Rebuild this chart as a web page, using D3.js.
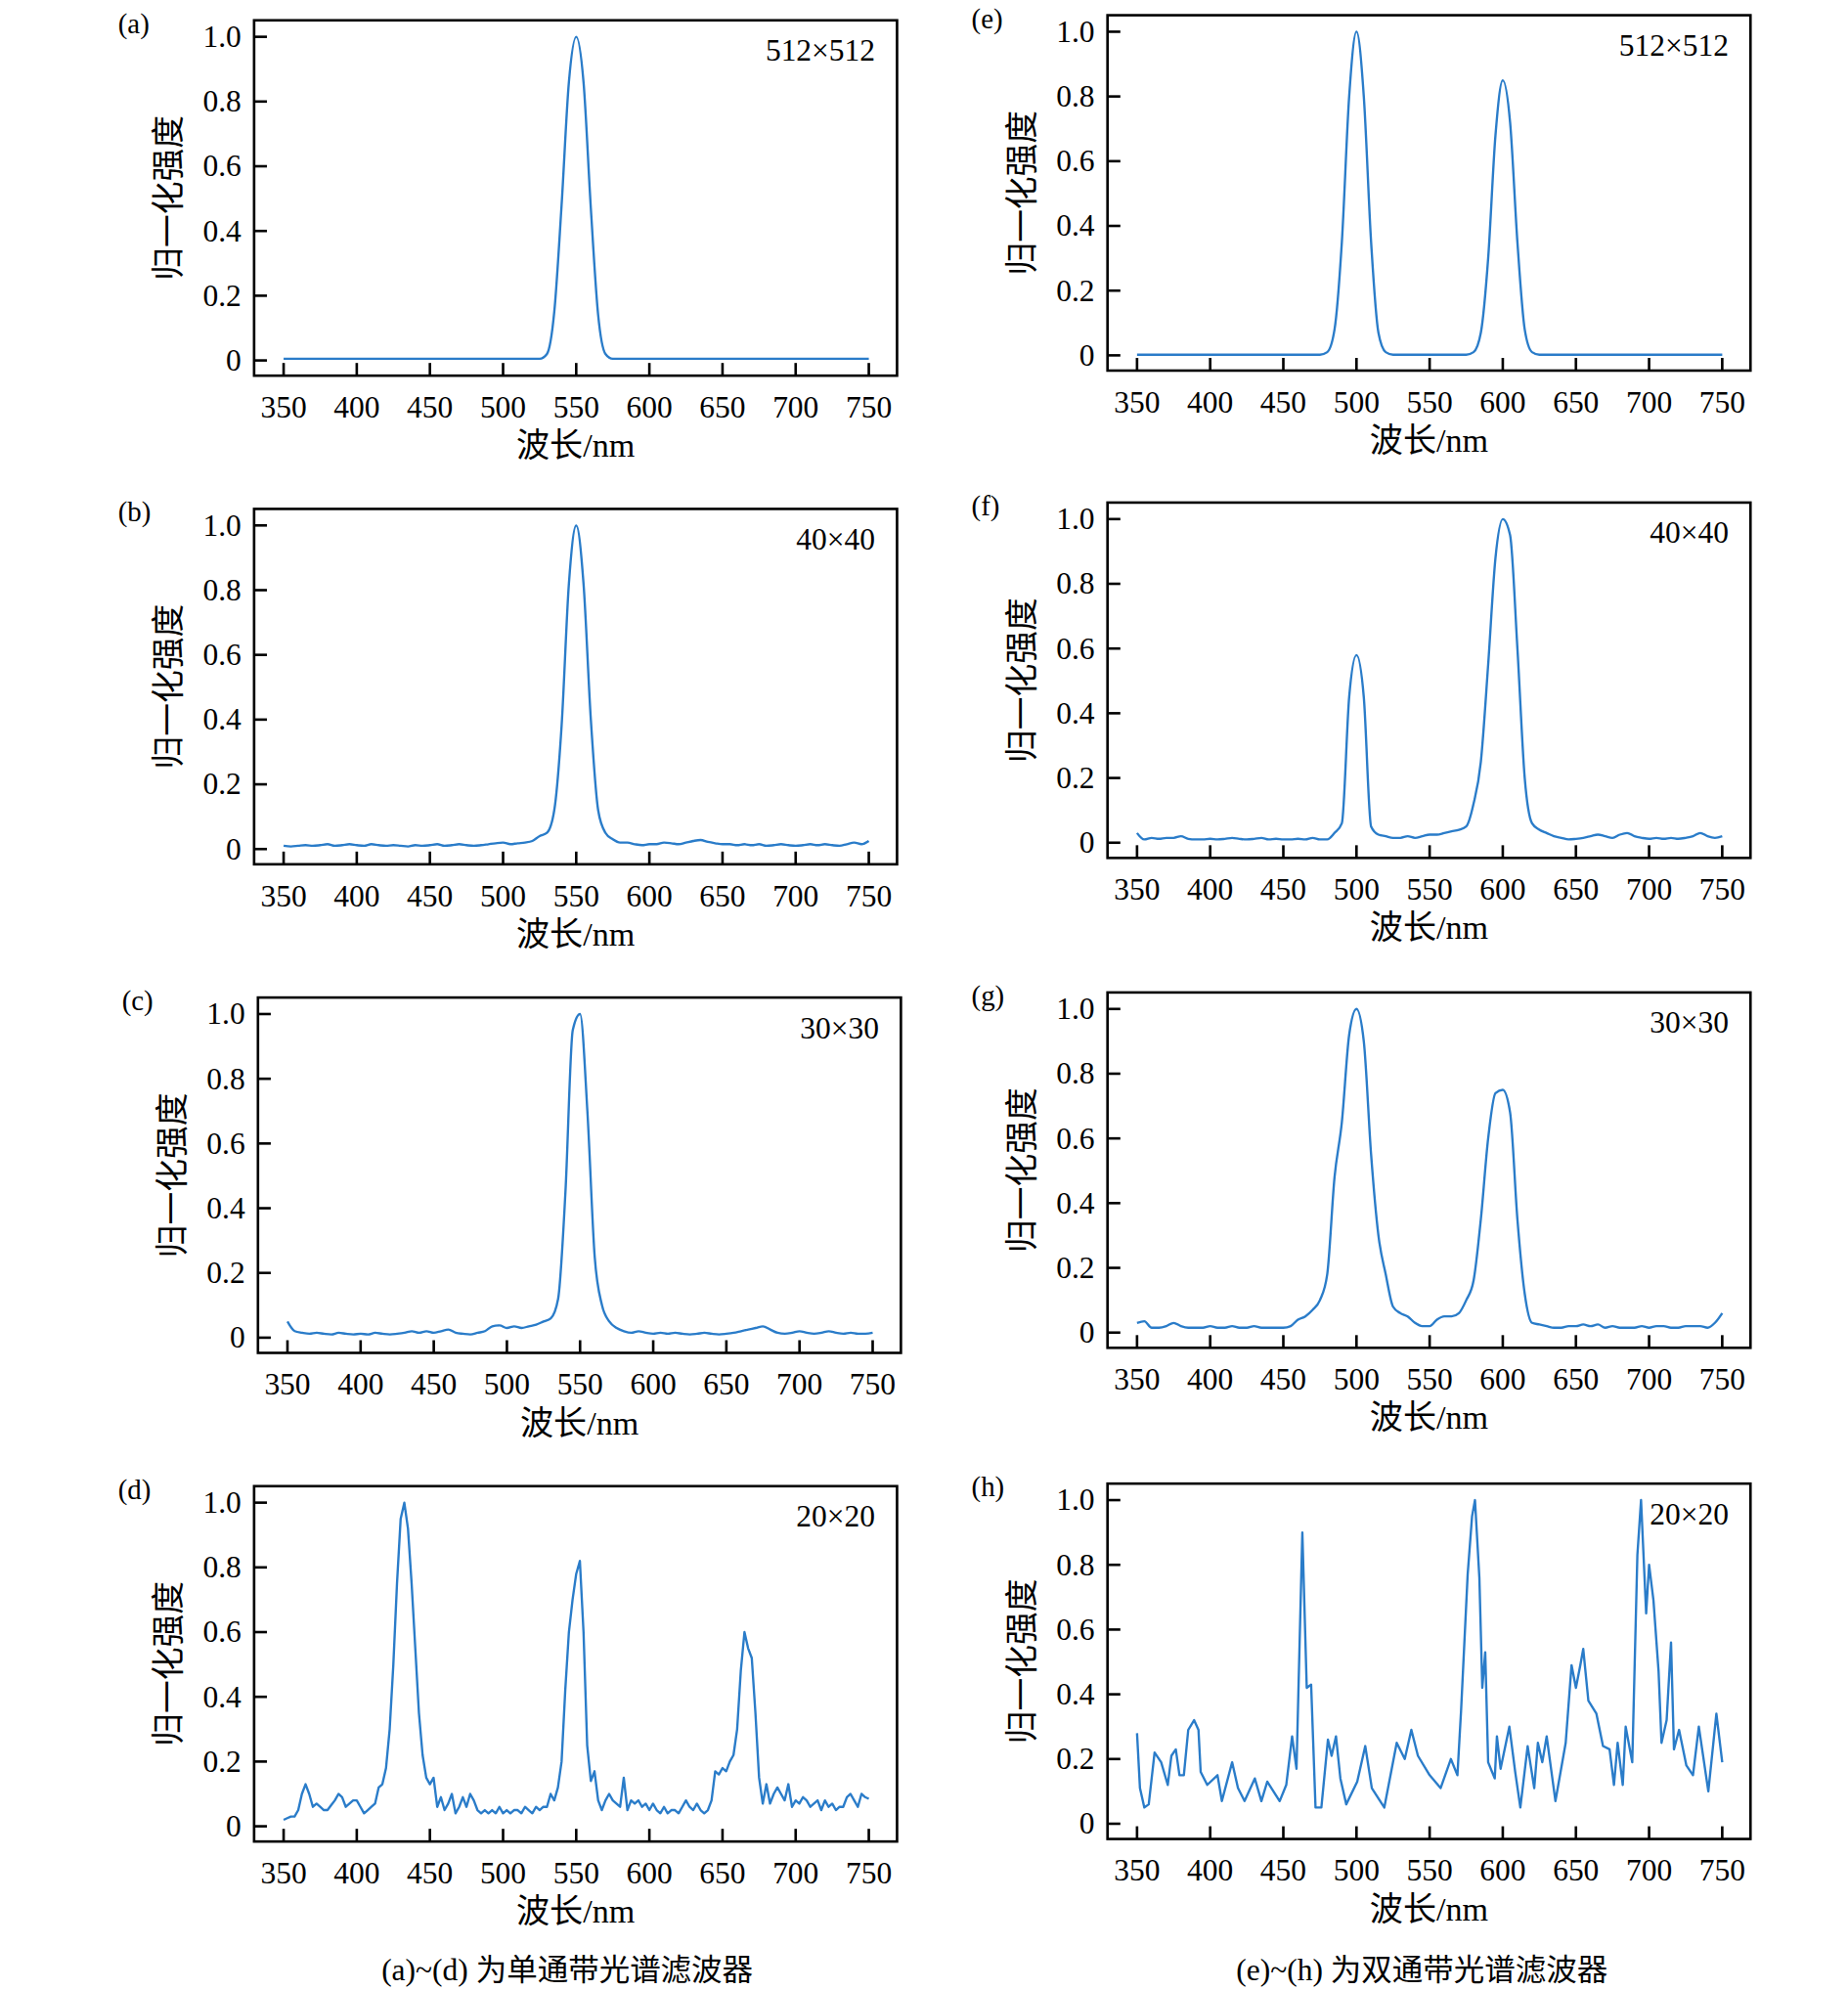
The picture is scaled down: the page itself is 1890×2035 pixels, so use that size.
<!DOCTYPE html>
<html>
<head>
<meta charset="utf-8">
<script src="https://cdn.jsdelivr.net/npm/d3@7"></script>
<style>
  body { margin: 0; background: #fff; }
  text { font-family: "Liberation Serif", "Times New Roman", serif; fill: #000; }
  .cjk { font-family: "Liberation Serif", "Noto Sans CJK SC", serif; }
</style>
</head>
<body>
<svg id="chart" width="1890" height="2035" viewBox="0 0 1440 1568" preserveAspectRatio="none"></svg>
<script>
// wavelength grids
const wl5 = d3.range(350, 751, 5);     // 81 points
const wl25 = d3.range(350, 750.1, 2.5); // 161 points
const xTicks = [350, 400, 450, 500, 550, 600, 650, 700, 750];
const yTicks = [0, 0.2, 0.4, 0.6, 0.8, 1.0];

// (a) 512x512 single band
const specA = [
  0.005,0.005,0.005,0.005,0.005,0.005,0.005,0.005,0.005,0.005,0.005,0.005,0.005,0.005,0.005,0.005,0.005,0.005,
  0.005,0.005,0.005,0.005,0.005,0.005,0.005,0.005,0.005,0.005,0.005,0.005,0.005,0.005,0.005,0.005,0.005,0.005,
  0.02,0.15,0.48,0.86,1.0,0.86,0.47,0.14,0.02,
  0.005,0.005,0.005,0.005,0.005,0.005,0.005,0.005,0.005,0.005,0.005,0.005,0.005,0.005,0.005,0.005,0.005,0.005,
  0.005,0.005,0.005,0.005,0.005,0.005,0.005,0.005,0.005,0.005,0.005,0.005,0.005,0.005,0.005,0.005,0.005,0.005
];
// (b) 40x40
const specB = [
  0.01,0.008,0.01,0.012,0.01,0.012,0.015,0.01,0.012,0.015,0.012,0.01,0.015,0.012,0.01,0.012,0.01,
  0.008,0.012,0.01,0.012,0.015,0.01,0.012,0.015,0.012,0.01,0.012,0.015,0.018,0.02,0.015,0.018,0.02,
  0.025,0.04,0.05,0.12,0.38,0.82,1.0,0.82,0.4,0.12,0.05,0.03,0.02,
  0.02,0.015,0.012,0.015,0.015,0.02,0.018,0.015,0.02,0.025,0.028,0.022,0.018,0.015,0.015,0.012,0.015,
  0.012,0.015,0.01,0.012,0.015,0.012,0.01,0.012,0.015,0.012,0.015,0.012,0.01,0.015,0.02,0.015,0.025
];
// (c) 30x30
const specC = [
  0.05,0.02,0.015,0.012,0.015,0.012,0.01,0.015,0.012,0.01,0.012,0.01,0.015,0.012,0.01,0.012,0.015,0.02,0.015,
  0.02,0.015,0.02,0.025,0.015,0.012,0.01,0.015,0.02,0.035,0.038,0.03,0.035,0.03,0.035,0.04,0.05,0.06,0.12,
  0.45,0.95,1.0,0.7,0.25,0.1,0.05,0.03,0.02,
  0.015,0.02,0.015,0.012,0.015,0.012,0.015,0.012,0.01,0.012,0.015,0.012,0.01,0.012,0.015,0.02,0.025,
  0.03,0.035,0.025,0.015,0.012,0.015,0.02,0.015,0.012,0.015,0.02,0.015,0.012,0.015,0.012,0.012,0.015
];
// (d) 20x20, 2.5 nm steps
const specD = [
  0.02,0.025,0.03,0.03,  0.05,0.1,0.13,0.1,   0.06,0.07,0.06,0.05,  0.05,0.065,0.08,0.1,
  0.09,0.06,0.07,0.08,   0.08,0.06,0.04,0.05, 0.06,0.07,0.12,0.13,  0.18,0.3,0.5,0.75,
  0.95,1.0,0.92,0.75,    0.55,0.35,0.22,0.15, 0.13,0.15,0.06,0.09,  0.05,0.07,0.1,0.04,
  0.06,0.09,0.06,0.1,    0.08,0.05,0.04,0.05, 0.04,0.05,0.04,0.06,  0.04,0.05,0.04,0.05,
  0.05,0.04,0.06,0.05,   0.04,0.06,0.05,0.06, 0.06,0.1,0.08,0.12,   0.2,0.42,0.6,0.7,
  0.78,0.82,0.6,0.25,    0.14,0.17,0.08,0.05, 0.08,0.1,0.08,0.07,   0.06,0.15,0.05,0.08,
  0.07,0.08,0.06,0.07,   0.05,0.07,0.05,0.04, 0.06,0.04,0.05,0.05,  0.04,0.06,0.08,0.06,
  0.05,0.07,0.05,0.04,   0.05,0.08,0.17,0.16, 0.18,0.17,0.2,0.22,   0.3,0.48,0.6,0.55,
  0.52,0.35,0.15,0.07,   0.13,0.07,0.1,0.12,  0.1,0.08,0.13,0.06,   0.08,0.07,0.09,0.08,
  0.06,0.07,0.08,0.05,   0.08,0.06,0.07,0.05, 0.06,0.06,0.09,0.1,   0.08,0.06,0.1,0.09,
  0.085
];
// (e) 512x512 dual band
const specE = [
  0.002,0.002,0.002,0.002,0.002,0.002,0.002,0.002,0.002,0.002,0.002,0.002,0.002,
  0.002,0.002,0.002,0.002,0.002,0.002,0.002,0.002,0.002,0.002,0.002,0.002,0.002,
  0.01,0.08,0.35,0.8,1.0,0.8,0.35,0.07,0.01,
  0.002,0.002,0.002,0.002,0.002,0.002,0.002,0.002,0.002,0.002,0.002,
  0.01,0.07,0.3,0.68,0.85,0.72,0.35,0.08,0.01,
  0.002,0.002,0.002,0.002,0.002,0.002,0.002,0.002,0.002,0.002,0.002,0.002,0.002,
  0.002,0.002,0.002,0.002,0.002,0.002,0.002,0.002,0.002,0.002,0.002,0.002,0.002
];
// (f) 40x40
const specF = [
  0.03,0.01,0.015,0.012,0.015,0.015,0.02,0.012,0.01,0.01,0.012,0.01,0.012,0.015,0.012,
  0.01,0.012,0.015,0.01,0.012,0.01,0.01,0.012,0.01,0.015,0.01,0.01,0.03,0.06,
  0.45,0.58,0.45,0.05,0.025,
  0.02,0.015,0.015,0.02,0.015,0.02,0.025,0.025,0.03,0.035,0.04,0.05,0.12,0.25,0.55,0.88,
  1.0,0.95,0.6,0.2,0.06,0.04,0.03,
  0.02,0.015,0.01,0.012,0.015,0.02,0.025,0.02,0.015,0.025,0.03,0.02,
  0.015,0.012,0.015,0.012,0.015,0.012,0.015,0.02,0.03,0.02,0.015,0.02
];
// (g) 30x30
const specG = [
  0.03,0.035,0.015,0.015,0.02,0.03,0.02,0.015,0.015,0.015,0.02,0.015,0.015,0.02,0.015,0.015,0.02,0.015,
  0.015,0.015,0.015,0.02,0.04,0.05,0.07,0.1,0.18,0.48,0.65,0.92,1.0,0.9,0.55,0.3,0.18,0.08,0.06,0.05,0.03,0.02,
  0.02,0.04,0.05,0.05,0.06,0.1,0.16,0.35,0.6,0.74,0.75,0.68,0.35,0.12,0.03,
  0.025,0.02,0.015,0.015,0.02,0.02,0.025,0.02,0.025,0.015,0.02,0.015,0.015,
  0.015,0.02,0.015,0.02,0.02,0.015,0.015,0.02,0.02,0.02,0.015,0.03,0.06
];
// (h) 20x20, irregular sampling
const wlH = [350,352,355,358,362,366.5,371,373.5,376.5,379,382,385,389,392,393.5,398,405,408,415,419,423.5,
  430.5,435,439,447.5,452,456,459,463,466,469,472,476,480.5,483,486,489,493,500.5,506,510.5,519,527.5,533,
  537.5,542,550,557.5,564.5,569,571.5,576,579,581,584,586,588,590,594.5,596,598.5,604.5,608.5,612,617,621.5,
  624,627,630,636,643,647,650,653,655,658.5,664,668.5,673,676,678.5,682,684,688.5,692,694.5,698,700,703,
  706.5,708.5,712,715,717,720.5,725.5,730,734,740.5,746,750];
const specH = [0.28,0.11,0.05,0.06,0.22,0.19,0.12,0.21,0.23,0.15,0.15,0.29,0.32,0.29,0.16,0.12,0.15,0.07,0.19,0.11,0.07,
  0.14,0.07,0.13,0.07,0.12,0.27,0.17,0.9,0.42,0.43,0.05,0.05,0.26,0.21,0.27,0.14,0.06,0.13,0.24,0.11,0.05,0.25,0.2,
  0.29,0.21,0.15,0.11,0.2,0.15,0.35,0.77,0.95,1.0,0.76,0.42,0.53,0.19,0.14,0.27,0.17,0.3,0.16,0.05,0.24,0.11,
  0.25,0.19,0.27,0.07,0.25,0.49,0.42,0.49,0.54,0.38,0.34,0.24,0.23,0.12,0.25,0.12,0.3,0.19,0.83,1.0,0.65,0.8,0.69,
  0.47,0.25,0.32,0.56,0.23,0.29,0.18,0.15,0.3,0.1,0.34,0.19];

const panels = [
  { id: "(a)", label: "512×512", left: 198, top: 16, wl: wl5, y: specA, smooth: true },
  { id: "(b)", label: "40×40", left: 198, top: 401, wl: wl5, y: specB, smooth: true },
  { id: "(c)", label: "30×30", left: 201, top: 786, wl: wl5, y: specC, smooth: true },
  { id: "(d)", label: "20×20", left: 198, top: 1171, wl: wl25, y: specD, smooth: false },
  { id: "(e)", label: "512×512", left: 863, top: 12, wl: wl5, y: specE, smooth: true },
  { id: "(f)", label: "40×40", left: 863, top: 396, wl: wl5, y: specF, smooth: true },
  { id: "(g)", label: "30×30", left: 863, top: 782, wl: wl5, y: specG, smooth: true },
  { id: "(h)", label: "20×20", left: 863, top: 1169, wl: wlH, y: specH, smooth: false }
];

const svg = d3.select("#chart");
const W = 501, H = 280;
const lineColor = "#2a7cc9";

panels.forEach(p => {
  const g = svg.append("g").attr("transform", `translate(${p.left},${p.top})`);
  const x = d3.scaleLinear().domain([350, 750]).range([23, 479]);
  const y = d3.scaleLinear().domain([0, 1]).range([H - 12, 13]);

  // data line
  const pts = p.wl.map((w, i) => [w, p.y[i]]);
  g.append("path")
    .attr("d", d3.line().x(d => x(d[0])).y(d => y(d[1]))
      .curve(p.smooth ? d3.curveMonotoneX : d3.curveLinear)(pts))
    .attr("fill", "none")
    .attr("stroke", lineColor)
    .attr("stroke-width", 1.8)
    .attr("stroke-linejoin", "round");

  // frame
  g.append("rect").attr("width", W).attr("height", H)
    .attr("fill", "none").attr("stroke", "#000").attr("stroke-width", 2);

  // x ticks (inward)
  g.selectAll(".xt").data(xTicks).enter().append("line")
    .attr("x1", d => x(d)).attr("x2", d => x(d))
    .attr("y1", H).attr("y2", H - 10)
    .attr("stroke", "#000").attr("stroke-width", 2);
  g.selectAll(".xl").data(xTicks).enter().append("text")
    .attr("x", d => x(d)).attr("y", H + 33)
    .attr("text-anchor", "middle").attr("font-size", 24)
    .text(d => d);

  // y ticks (inward)
  g.selectAll(".yt").data(yTicks).enter().append("line")
    .attr("x1", 0).attr("x2", 10)
    .attr("y1", d => y(d)).attr("y2", d => y(d))
    .attr("stroke", "#000").attr("stroke-width", 2);
  g.selectAll(".yl").data(yTicks).enter().append("text")
    .attr("x", -10).attr("y", d => y(d) + 8)
    .attr("text-anchor", "end").attr("font-size", 24)
    .text(d => d === 0 ? "0" : d.toFixed(1));

  // axis titles
  g.append("text").attr("class", "cjk")
    .attr("x", W / 2).attr("y", H + 64)
    .attr("text-anchor", "middle").attr("font-size", 26)
    .text("波长/nm");
  g.append("text").attr("class", "cjk")
    .attr("transform", `translate(-58,${H / 2}) rotate(-90)`)
    .attr("text-anchor", "middle").attr("font-size", 26)
    .text("归一化强度");

  // panel letter and size label
  g.append("text").attr("x", -106).attr("y", 10)
    .attr("font-size", 22).text(p.id);
  g.append("text").attr("x", W - 17).attr("y", 32)
    .attr("text-anchor", "end").attr("font-size", 24)
    .text(p.label);
});

// captions
svg.append("text").attr("class", "cjk")
  .attr("x", 442).attr("y", 1560).attr("text-anchor", "middle").attr("font-size", 24)
  .text("(a)~(d) 为单通带光谱滤波器");
svg.append("text").attr("class", "cjk")
  .attr("x", 1108).attr("y", 1560).attr("text-anchor", "middle").attr("font-size", 24)
  .text("(e)~(h) 为双通带光谱滤波器");
</script>
</body>
</html>
